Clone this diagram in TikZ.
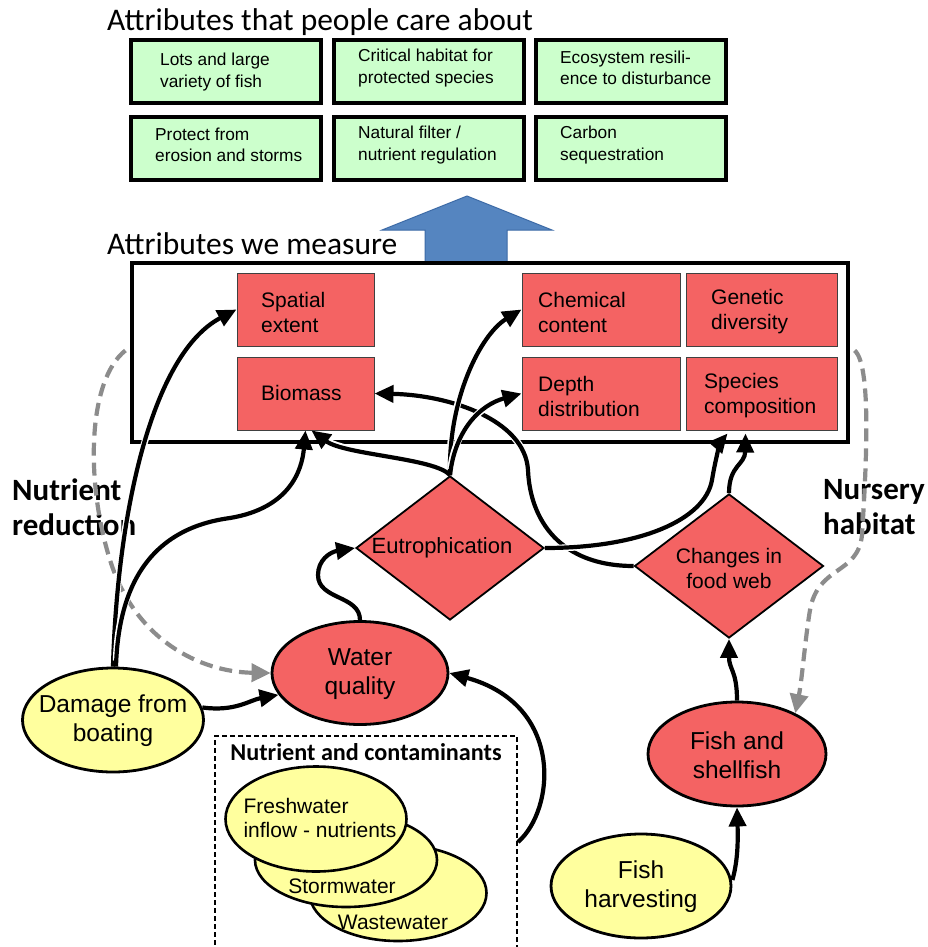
\documentclass[tikz,border=0pt]{standalone}
\usepackage{fontspec}
\setmainfont{Liberation Sans}
\newfontfamily\calfont{Carlito}
\usetikzlibrary{arrows.meta,shapes.geometric,calc}
\definecolor{gfill}{HTML}{CCFFCC}
\definecolor{rfill}{HTML}{F46363}
\definecolor{yfill}{HTML}{FFFF9E}
\definecolor{bfill}{HTML}{5585C0}
\definecolor{bdraw}{HTML}{3C6AA6}
\definecolor{dgray}{HTML}{8C8C8C}
\tikzset{
  gbox/.style={draw=black, line width=3.2pt, fill=gfill, minimum width=190pt, minimum height=63pt, inner sep=0pt},
  gtxt/.style={anchor=west, align=left, inner sep=0pt, font=\fontsize{17.3}{21.5}\selectfont},
  rbox/.style={draw=black!75, line width=1pt, fill=rfill, minimum height=73pt, inner sep=0pt},
  rtxt/.style={anchor=west, align=left, inner sep=0pt, font=\fontsize{21}{25}\selectfont},
  title/.style={anchor=west, inner sep=0pt, font=\calfont\fontsize{31.5}{34}\selectfont},
  blabel/.style={anchor=west, align=left, inner sep=0pt, font=\calfont\bfseries\fontsize{31}{35}\selectfont},
  rell/.style={ellipse, draw=black, line width=2.8pt, fill=rfill, inner sep=0pt},
  yell/.style={ellipse, draw=black, line width=2.8pt, fill=yfill, inner sep=0pt},
  etxt/.style={inner sep=0pt, align=center, font=\fontsize{24.5}{29}\selectfont},
  sell/.style={ellipse, draw=black, line width=2.6pt, fill=yfill, inner sep=0pt},
  stxt/.style={inner sep=0pt, align=left, font=\fontsize{21}{24}\selectfont},
  dia/.style={diamond, draw=black, line width=1.8pt, fill=rfill, inner sep=0pt},
  dtxt/.style={inner sep=0pt, align=center},
  arr/.style={line width=4.2pt, preaction={draw=white, line width=6.7pt, -, shorten <=6pt, shorten >=14pt}, -{Triangle[length=19pt,width=17pt]}},
  garr/.style={line width=4.2pt, draw=dgray, dash pattern=on 13pt off 7pt, -{Triangle[length=19pt,width=18pt]}},
}
\begin{document}
\begin{tikzpicture}[x=1pt,y=-1pt]
\path[use as bounding box, clip] (0,0) rectangle (928,947);
\fill[white] (0,0) rectangle (928,947);

% titles
\node[title] (t1) at (107,22) {Attributes that people care about};
\node[title] (t2) at (107,244) {Attributes we measure};

% green boxes
\node[gbox] (g1) at (226,71.5) {};
\node[gbox] (g2) at (429,71.5) {};
\node[gbox] (g3) at (631,71.5) {};
\node[gbox] (g4) at (226,148.5) {};
\node[gbox] (g5) at (429,148.5) {};
\node[gbox] (g6) at (631,148.5) {};
\node[gtxt] (g1t) at (160,72) {Lots and large\\variety of fish};
\node[gtxt] (g2t) at (358,68) {Critical habitat for\\protected species};
\node[gtxt] (g3t) at (560,68) {Ecosystem resili-\\ence to disturbance};
\node[gtxt] (g4t) at (155,145) {Protect from\\erosion and storms};
\node[gtxt] (g5t) at (358,145) {Natural filter /\\nutrient regulation};
\node[gtxt] (g6t) at (560,145) {Carbon\\sequestration};

% big blue arrow
\draw[bdraw, fill=bfill, line width=1pt] (425,263) -- (425,230) -- (382,230) -- (467,196) -- (552,230) -- (507,230) -- (507,263) -- cycle;

% measure box
\node[draw=black, line width=3.2pt, minimum width=716pt, minimum height=179pt, inner sep=0pt] (mbox) at (490,352.5) {};

% red boxes
\node[rbox, minimum width=137pt] (spatial) at (305.5,309.5) {};
\node[rbox, minimum width=137pt] (biomass) at (305.5,393.5) {};
\node[rbox, minimum width=158pt] (chem) at (601,309.5) {};
\node[rbox, minimum width=151pt] (gen) at (761.5,309.5) {};
\node[rbox, minimum width=158pt] (depth) at (601,393.5) {};
\node[rbox, minimum width=151pt] (species) at (761.5,393.5) {};
\node[rtxt] (spatialt) at (261,312) {Spatial\\extent};
\node[rtxt] (biomasst) at (261,393) {Biomass};
\node[rtxt] (chemt) at (538,312) {Chemical\\content};
\node[rtxt] (gent) at (711,312) {Genetic\\diversity};
\node[rtxt] (deptht) at (538,396) {Depth\\distribution};
\node[rtxt] (speciest) at (704,396) {Species\\composition};

% diamonds
\node[dia, minimum width=188pt, minimum height=144pt] (eut) at (450,548) {};
\node[dtxt, font=\fontsize{22}{26}\selectfont] (eutt) at (442,548) {Eutrophication};
\node[dia, minimum width=189pt, minimum height=144pt] (food) at (729,566) {};
\node[dtxt, font=\fontsize{21}{25}\selectfont] (foodt) at (729,568) {Changes in\\food web};

% ellipses
\node[rell, minimum width=176pt, minimum height=103pt] (wq) at (360,673) {};
\node[etxt] (wqt) at (360,674) {Water\\quality};
\node[yell, minimum width=181pt, minimum height=104pt] (dmg) at (113,720) {};
\node[etxt] (dmgt) at (113,721) {Damage from\\boating};
\node[rell, minimum width=178pt, minimum height=104pt] (fish) at (737,754) {};
\node[etxt] (fisht) at (737,755) {Fish and\\shellfish};
\node[yell, minimum width=180pt, minimum height=104pt] (harv) at (641,886) {};
\node[etxt] (harvt) at (641,887) {Fish\\harvesting};

% nutrient box
\node[draw=black, dash pattern=on 5pt off 3pt, line width=2pt, minimum width=302pt, minimum height=240pt, anchor=north west, inner sep=0pt] (nbox) at (214,735) {};
\node[inner sep=0pt, font=\calfont\bfseries\fontsize{24.2}{26}\selectfont] (nboxt) at (366,752) {Nutrient and contaminants};
\node[sell, minimum width=177pt, minimum height=96pt] (waste) at (398,893) {};
\node[sell, minimum width=182pt, minimum height=94pt] (storm) at (346,860) {};
\node[sell, minimum width=181pt, minimum height=105pt] (fresh) at (316,819) {};
\node[stxt] (fresht) at (320,818) {Freshwater\\inflow - nutrients};
\node[stxt] (stormt) at (342,886) {Stormwater};
\node[stxt] (wastet) at (393,922) {Wastewater};

% side labels
\node[blabel] (nr) at (12,507) {Nutrient\\reduction};
\node[blabel] (nh) at (823,507) {Nursery\\habitat};

% gray dashed connectors
\draw[garr] ($(mbox.west)+(-5,-2)$) .. controls (88,380) and (85,480) .. (110,560) .. controls (135,640) and (200,672) .. (wq.west);
\draw[garr] ($(mbox.east)+(5,-2)$) .. controls (872,365) and (866,470) .. (862,535) .. controls (858,575) and (818,565) .. (810,610) .. controls (805,640) and (802,680) .. (fish.35);

% black connectors
\draw[arr] (dmg.north) .. controls (117,520) and (150,355) .. (spatial.west);
\draw[arr] ($(dmg.north)+(3,0)$) .. controls (118,600) and (140,530) .. (230,518) .. controls (290,508) and (302,470) .. (biomass.south);
\draw[arr] (dmg.8) .. controls (235,712) and (250,700) .. (wq.195);
\draw[arr] (wq.north) .. controls (360,595) and (318,600) .. (318,575) .. controls (318,560) and (330,552) .. (eut.west);
\draw[arr] (eut.north) .. controls (435,458) and (345,455) .. ($(biomass.south)+(6,0)$);
\draw[arr] (food.west) .. controls (560,566) and (530,520) .. (528,470) .. controls (525,420) and (450,395) .. (biomass.east);
\draw[arr] (eut.north) .. controls (448,400) and (480,335) .. (chem.west);
\draw[arr] (eut.north) .. controls (455,430) and (480,405) .. (depth.west);
\draw[arr] (eut.east) .. controls (640,548) and (705,520) .. (712,480) .. controls (716,455) and (722,440) .. ($(species.south)+(-34,3)$);
\draw[arr] (food.north) .. controls (729,465) and (745,465) .. ($(species.south)+(-16,3)$);
\draw[arr] (fish.north) .. controls (737,670) and (729,670) .. (food.south);
\draw[arr] ($(harv.east)+(0,-6)$) .. controls (738,860) and (738,840) .. (fish.south);
\draw[arr] ($(nbox.north east)+(0,107)$) .. controls (555,810) and (565,705) .. (wq.east);
\end{tikzpicture}
\end{document}
